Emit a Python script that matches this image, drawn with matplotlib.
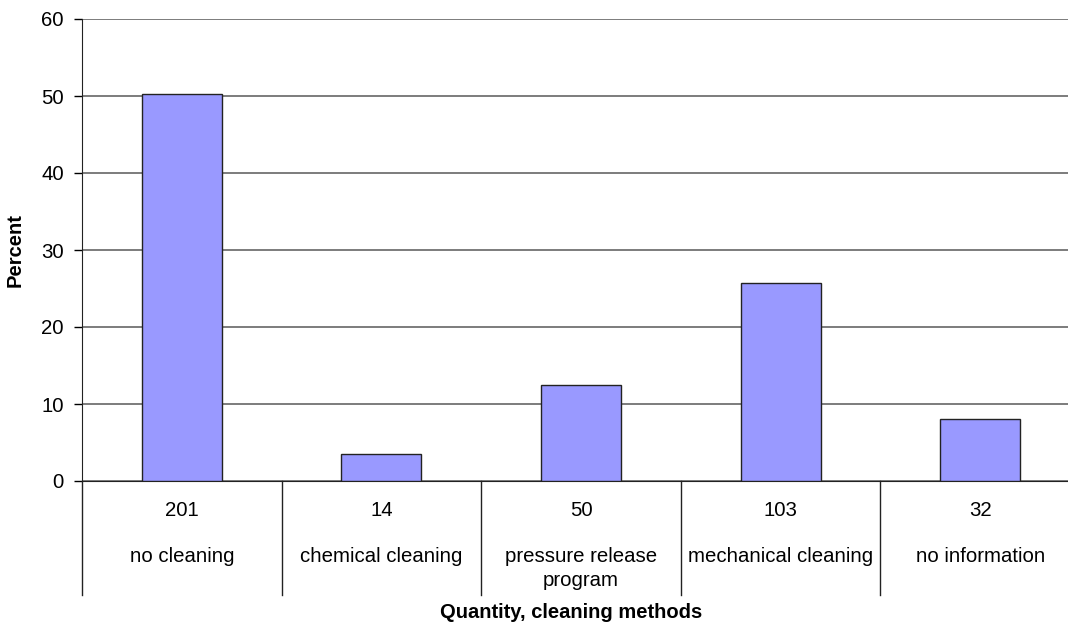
import numpy as np
import matplotlib.pyplot as plt
import matplotlib
matplotlib.rcParams.update({'font.size': 14.7, 'font.family': 'Liberation Sans'})

methods = ['no cleaning', 'chemical cleaning', 'pressure release\nprogram',
           'mechanical cleaning', 'no information']
quantity = [201, 14, 50, 103, 32]
percent = [50.25, 3.5, 12.5, 25.75, 8.0]

fig = plt.figure(figsize=(10.68, 6.24), dpi=100)
ax = fig.add_axes([82/1068, 143/624, 998/1068, 462/624])

x = np.arange(len(methods))
ax.bar(x, percent, width=0.4, color='#9999ff', edgecolor='#222222', linewidth=1, zorder=3)

ax.set_xlim(-0.5, len(methods) - 0.5)
ax.set_ylim(0, 60)
ax.set_yticks(np.arange(0, 61, 10))
ax.yaxis.grid(True, color='#666666', linewidth=1.2, zorder=0)
ax.tick_params(axis='y', direction='out', length=6, width=1, pad=7)
ax.set_xticks([])
for s in ['top', 'right']:
    ax.spines[s].set_visible(False)
ax.spines['left'].set_color('#222222')
ax.spines['bottom'].set_color('#222222')

# category boxes below the axis
tr = ax.get_xaxis_transform()
for b in np.arange(-0.5, len(methods) + 0.5, 1):
    ax.plot([b, b], [0, -114/462], transform=tr, color='#222222', lw=1, clip_on=False)
for i in range(len(methods)):
    ax.text(x[i], -29/462, str(quantity[i]), transform=tr, ha='center', va='center')
    ax.text(x[i], -66/462, methods[i], transform=tr, ha='center', va='top', linespacing=1.3)

ax.set_ylabel('Percent', fontweight='bold', fontsize=14.5, labelpad=12)
fig.text(571/1068, 1 - 612/624, 'Quantity, cleaning methods', fontweight='bold',
         fontsize=14.5, ha='center', va='center')

plt.savefig('out.png')
